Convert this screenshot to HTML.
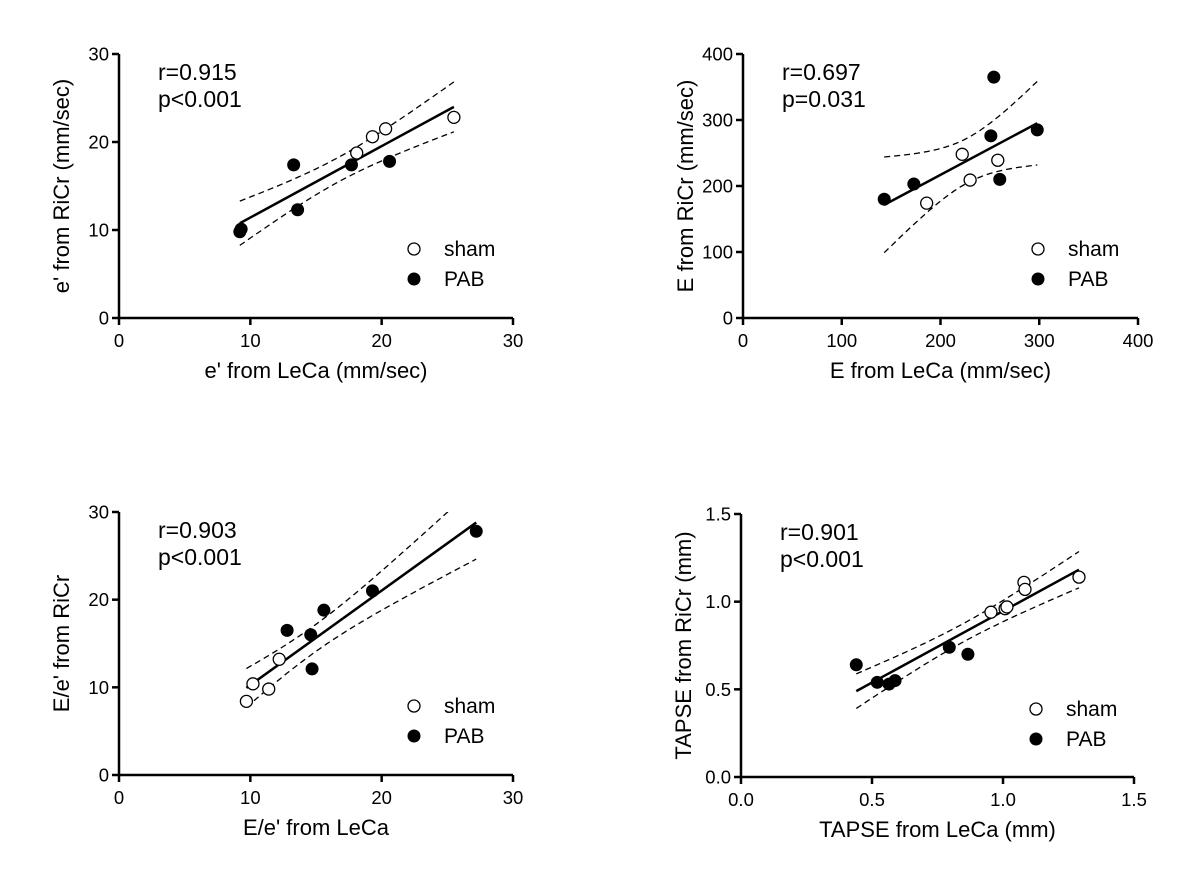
<!DOCTYPE html>
<html><head><meta charset="utf-8"><style>
html,body{margin:0;padding:0;background:#fff;}
svg{display:block;font-family:"Liberation Sans",Arial,sans-serif;}
</style></head><body>
<svg id="chart" width="1200" height="880" viewBox="0 0 1200 880"></svg>
<script>
// Panel 1: e'
const p1ShamX=[18.1,19.3,20.3,25.5];
const p1ShamY=[18.75,20.6,21.5,22.8];
const p1PabX=[9.2,9.3,13.3,13.6,17.7,20.6];
const p1PabY=[9.8,10.1,17.4,12.3,17.4,17.8];
const p1Ticks=[0,10,20,30];
// Panel 2: E
const p2ShamX=[186,222,230,258];
const p2ShamY=[174,248,209,239];
const p2PabX=[143,173,251,254,260,298];
const p2PabY=[180,203,276,365,210,285];
const p2Ticks=[0,100,200,300,400];
// Panel 3: E/e'
const p3ShamX=[9.7,10.2,11.4,12.2];
const p3ShamY=[8.4,10.4,9.8,13.2];
const p3PabX=[12.8,14.6,14.7,15.6,19.3,27.2];
const p3PabY=[16.5,16.0,12.1,18.8,21.0,27.8];
const p3Ticks=[0,10,20,30];
// Panel 4: TAPSE
const p4ShamX=[0.954,1.008,1.015,1.08,1.084,1.29];
const p4ShamY=[0.94,0.96,0.97,1.11,1.07,1.14];
const p4PabX=[0.44,0.52,0.565,0.588,0.795,0.866];
const p4PabY=[0.64,0.54,0.53,0.55,0.74,0.70];
const p4Ticks=["0.0","0.5","1.0","1.5"];
const p1Stats=["r=0.915","p<0.001"];
const p2Stats=["r=0.697","p=0.031"];
const p3Stats=["r=0.903","p<0.001"];
const p4Stats=["r=0.901","p<0.001"];

const NS="http://www.w3.org/2000/svg";
const svg=document.getElementById('chart');
function mk(tag,attrs,parent){const e=document.createElementNS(NS,tag);for(const k in attrs)e.setAttribute(k,attrs[k]);(parent||svg).appendChild(e);return e;}
const tTable={8:2.306,9:2.262,10:2.228,11:2.201,12:2.179};
const defs=mk('defs',{});
let pid=0;

function panel(cfg){
  const g=mk('g',{});
  
  
  const ticks=cfg.ticks.map(Number);
  const lo=ticks[0],hi=ticks[ticks.length-1];
  const sx=v=>cfg.x0+(v-lo)/(hi-lo)*(cfg.x1-cfg.x0);
  const sy=v=>cfg.y0-(v-lo)/(hi-lo)*(cfg.y0-cfg.y1);
  const cid='clip'+(pid++);
  const cp=mk('clipPath',{id:cid},defs);
  mk('rect',{x:cfg.x0,y:cfg.y1,width:cfg.x1-cfg.x0,height:cfg.y0-cfg.y1},cp);
  const ya=mk('line',{x1:cfg.x0,y1:cfg.y0+1,x2:cfg.x0,y2:cfg.y1,stroke:'#000','stroke-width':2.5},g);
  
  
  const xa=mk('line',{x1:cfg.x0-1,y1:cfg.y0,x2:cfg.x1,y2:cfg.y0,stroke:'#000','stroke-width':2.5},g);
  
  
  cfg.ticks.forEach(t=>{
    const v=Number(t);
    mk('line',{x1:sx(v),y1:cfg.y0,x2:sx(v),y2:cfg.y0+7,stroke:'#000','stroke-width':2.5},g);
    mk('line',{x1:cfg.x0-7,y1:sy(v),x2:cfg.x0,y2:sy(v),stroke:'#000','stroke-width':2.5},g);
    const xl=mk('text',{x:sx(v),y:cfg.y0+29,'font-size':18.5,'text-anchor':'middle'},g);
    xl.textContent=t;
    
    
    const yl=mk('text',{x:cfg.x0-10,y:sy(v)+6.5,'font-size':18.5,'text-anchor':'end'},g);
    yl.textContent=t;
    
    
  });
  const xt=mk('text',{x:(cfg.x0+cfg.x1)/2,y:cfg.y0+60,'font-size':22,'text-anchor':'middle'},g);
  xt.textContent=cfg.xTitle;
  
  
  const cy=(cfg.y0+cfg.y1)/2,cx=cfg.x0-50;
  const yt=mk('text',{x:cx,y:cy,'font-size':22,'text-anchor':'middle',transform:`rotate(-90 ${cx} ${cy})`},g);
  yt.textContent=cfg.yTitle;
  
  
  cfg.stats.forEach((s,i)=>{
    const st=mk('text',{x:cfg.x0+39,y:cfg.y1+26+i*27,'font-size':23},g);
    st.textContent=s;
    
    
  });
  const X=cfg.sx.concat(cfg.px),Y=cfg.sy.concat(cfg.py),n=X.length;
  const mx=X.reduce((a,b)=>a+b)/n,my=Y.reduce((a,b)=>a+b)/n;
  let sxx=0,sxy=0;X.forEach((x,i)=>{sxx+=(x-mx)**2;sxy+=(x-mx)*(Y[i]-my);});
  const b=sxy/sxx,a=my-b*mx;
  let sse=0;X.forEach((x,i)=>{sse+=(Y[i]-a-b*x)**2;});
  const s=Math.sqrt(sse/(n-2)),t=tTable[n-2]||2.2;
  const xmin=Math.min(...X),xmax=Math.max(...X);
  let up='',dn='';
  for(let k=0;k<=40;k++){
    const x=xmin+(xmax-xmin)*k/40,yh=a+b*x,h=t*s*Math.sqrt(1/n+(x-mx)**2/sxx);
    up+=(k?'L':'M')+sx(x).toFixed(1)+' '+sy(yh+h).toFixed(1);
    dn+=(k?'L':'M')+sx(x).toFixed(1)+' '+sy(yh-h).toFixed(1);
  }
  const u=mk('path',{d:up,fill:'none',stroke:'#000','stroke-width':1.3,'stroke-dasharray':'6 4','clip-path':`url(#${cid})`},g);
  
  
  const d=mk('path',{d:dn,fill:'none',stroke:'#000','stroke-width':1.3,'stroke-dasharray':'6 4','clip-path':`url(#${cid})`},g);
  
  
  const rl=mk('line',{x1:sx(xmin),y1:sy(a+b*xmin),x2:sx(xmax),y2:sy(a+b*xmax),stroke:'#000','stroke-width':2.5},g);
  
  
  cfg.sx.forEach((x,i)=>{
    const c=mk('circle',{cx:sx(x),cy:sy(cfg.sy[i]),r:6,fill:'#fff',stroke:'#000','stroke-width':1.3},g);
    
    
  });
  cfg.px.forEach((x,i)=>{
    const c=mk('circle',{cx:sx(x),cy:sy(cfg.py[i]),r:6.5,fill:'#000'},g);
    
    
  });
  const lx=cfg.lx,ly=cfg.ly;
  const l1=mk('circle',{cx:lx,cy:ly,r:6,fill:'#fff',stroke:'#000','stroke-width':1.3},g);
  
  
  const t1=mk('text',{x:lx+30,y:ly+7,'font-size':21},g);t1.textContent='sham';
  
  
  const l2=mk('circle',{cx:lx,cy:ly+30,r:6.5,fill:'#000'},g);
  
  
  const t2=mk('text',{x:lx+30,y:ly+37,'font-size':21},g);t2.textContent='PAB';
  
  
}
panel({name:'panel-e-prime',x0:119,x1:513,y0:318,y1:54,ticks:p1Ticks,sx:p1ShamX,sy:p1ShamY,px:p1PabX,py:p1PabY,stats:p1Stats,xTitle:"e' from LeCa (mm/sec)",yTitle:"e' from RiCr (mm/sec)",lx:414,ly:249});
panel({name:'panel-e-velocity',x0:743,x1:1138,y0:318,y1:54,ticks:p2Ticks,sx:p2ShamX,sy:p2ShamY,px:p2PabX,py:p2PabY,stats:p2Stats,xTitle:"E from LeCa (mm/sec)",yTitle:"E from RiCr (mm/sec)",lx:1038,ly:249});
panel({name:'panel-e-over-e-prime',x0:119,x1:513,y0:775,y1:512,ticks:p3Ticks,sx:p3ShamX,sy:p3ShamY,px:p3PabX,py:p3PabY,stats:p3Stats,xTitle:"E/e' from LeCa",yTitle:"E/e' from RiCr",lx:414,ly:706});
panel({name:'panel-tapse',x0:741,x1:1134,y0:777,y1:514,ticks:p4Ticks,sx:p4ShamX,sy:p4ShamY,px:p4PabX,py:p4PabY,stats:p4Stats,xTitle:"TAPSE from LeCa (mm)",yTitle:"TAPSE from RiCr (mm)",lx:1036,ly:709});
</script>
</body></html>
